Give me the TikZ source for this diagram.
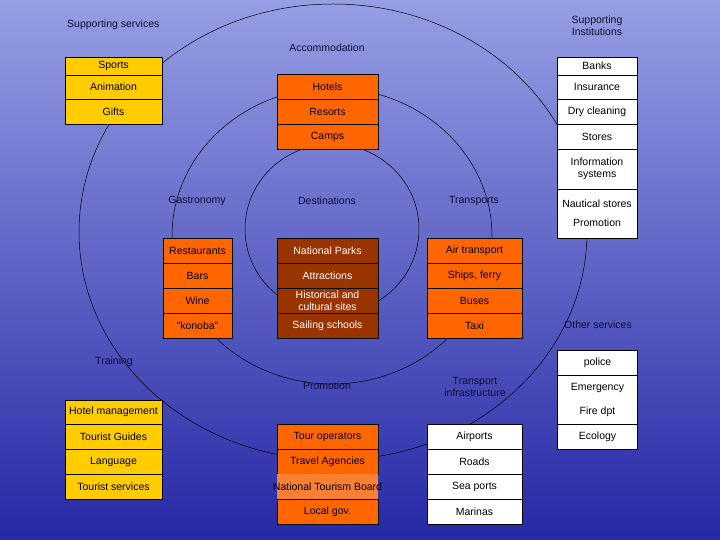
\documentclass[tikz,border=0pt]{standalone}
\usepackage{fontspec}
\setmainfont{Liberation Sans}

\definecolor{skytop}{RGB}{150,158,228}
\definecolor{skymid}{RGB}{92,100,210}
\definecolor{skybot}{RGB}{38,40,165}
\definecolor{cellyellow}{RGB}{255,204,0}
\definecolor{cellorange}{RGB}{255,102,0}
\definecolor{celllight}{RGB}{248,128,48}
\definecolor{cellbrown}{RGB}{153,51,0}
\definecolor{labelink}{RGB}{15,15,50}

\tikzset{
  cell/.style={draw=black, line width=0.7pt, inner sep=0pt, align=center,
    minimum height=25pt, font=\fontsize{10.5}{12}\selectfont},
  yellowcell/.style={cell, fill=cellyellow},
  orangecell/.style={cell, fill=cellorange},
  browncell/.style={cell, fill=cellbrown, text=white},
  whitecell/.style={cell, fill=white},
  colwide/.style={minimum width=97pt},
  colmid/.style={minimum width=101pt},
  colnarrow/.style={minimum width=69pt},
  coltrans/.style={minimum width=95pt},
  colside/.style={minimum width=80pt},
  grouplabel/.style={text=labelink, inner sep=0pt, align=center,
    font=\fontsize{10.5}{12}\selectfont},
  ring/.style={draw=black, line width=0.5pt}
}

\begin{document}
\begin{tikzpicture}[x=1pt,y=-1pt]
  \useasboundingbox (0,0) rectangle (720,540);
  \shade[top color=skytop, middle color=skymid, bottom color=skybot] (0,0) rectangle (720,540); % sky

  % rings
  \draw[ring] (333,232) ellipse [x radius=254, y radius=228];
  \draw[ring] (332,236) ellipse [x radius=160, y radius=148];
  \draw[ring] (332,229) ellipse [x radius=87, y radius=85];

  % group labels
  \node[grouplabel, anchor=west] (lsupserv) at (67,25) {Supporting services};
  \node[grouplabel] (laccom) at (327,48) {Accommodation};
  \node[grouplabel] (lsupinst) at (597,26) {Supporting\\Institutions};
  \node[grouplabel] (lgastro) at (197,201) {Gastronomy};
  \node[grouplabel] (ldest) at (327,201) {Destinations};
  \node[grouplabel] (ltrans) at (474,201) {Transports};
  \node[grouplabel] (lother) at (598,325) {Other services};
  \node[grouplabel] (ltrain) at (114,362) {Training};
  \node[grouplabel] (lpromo) at (327,386) {Promotion};
  \node[grouplabel] (linfra) at (475,387) {Transport\\infrastructure};

  % supporting services
  \node[yellowcell, colwide, minimum height=18pt] (sports) at (113.5,66) {Sports};
  \node[yellowcell, colwide, minimum height=24pt] (anim) at (113.5,87) {Animation};
  \node[yellowcell, colwide] (gifts) at (113.5,111.5) {Gifts};

  % accommodation
  \foreach \t [count=\i] in {Hotels,Resorts,Camps}
    \node[orangecell, colmid] (accom\i) at (327.5,61.5+25*\i) {\t};

  % supporting institutions
  \node[whitecell, colside, minimum height=18pt] (banks) at (597,66) {Banks};
  \node[whitecell, colside, minimum height=24pt] (insur) at (597,87) {Insurance};
  \node[whitecell, colside] (drycl) at (597,111.5) {Dry cleaning};
  \node[whitecell, colside] (stores) at (597,136.5) {Stores};
  \node[whitecell, colside, minimum height=40pt] (infosys) at (597,169) {Information\\systems};
  \node[whitecell, colside, minimum height=49pt] (nautic) at (597,213.5) {Nautical stores\\[7pt]Promotion};

  % gastronomy, destinations, transports
  \foreach \t [count=\i] in {Restaurants,Bars,Wine,"konoba"}
    \node[orangecell, colnarrow] (gastro\i) at (197.5,225.5+25*\i) {\t};
  \foreach \t [count=\i] in {National Parks,Attractions,{Historical and\\cultural sites},Sailing schools}
    \node[browncell, colmid] (dest\i) at (327.5,225.5+25*\i) {\t};
  \foreach \t [count=\i] in {Air transport,{Ships, ferry},Buses,Taxi}
    \node[orangecell, coltrans] (trans\i) at (474.5,225.5+25*\i) {\t};

  % other services
  \node[whitecell, colside] (police) at (597.5,362.5) {police};
  \node[whitecell, colside, minimum height=49pt] (emerg) at (597.5,399.5) {Emergency\\[12pt]Fire dpt};
  \node[whitecell, colside] (ecology) at (597.5,436.5) {Ecology};

  % training
  \node[yellowcell, colwide, minimum height=24pt] (train1) at (113.5,412) {Hotel management};
  \foreach \t [count=\i from 2] in {Tourist Guides,Language,Tourist services}
    \node[yellowcell, colwide] (train\i) at (113.5,386.5+25*\i) {\t};

  % promotion
  \node[orangecell, colmid] (promo1) at (327.5,436.5) {Tour operators};
  \node[orangecell, colmid] (promo2) at (327.5,461.5) {Travel Agencies};
  \node[orangecell, colmid, draw=none, fill=celllight] (promo3) at (327.5,486.5) {\makebox[0pt]{National Tourism Board}};
  \node[orangecell, colmid] (promo4) at (327.5,511.5) {Local gov.};

  % transport infrastructure
  \foreach \t [count=\i] in {Airports,Roads,Sea ports,Marinas}
    \node[whitecell, coltrans] (infra\i) at (474.5,411.5+25*\i) {\t};
\end{tikzpicture}
\end{document}
